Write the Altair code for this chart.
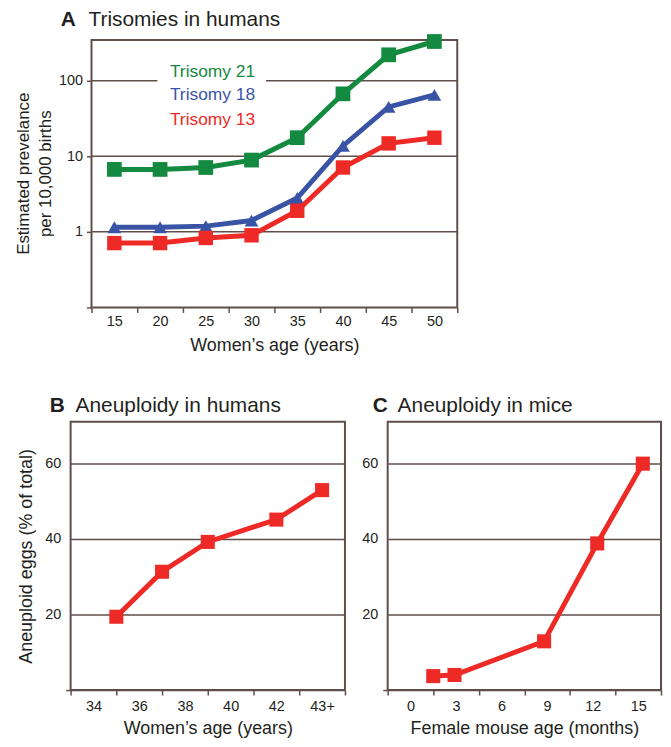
import altair as alt
import pandas as pd

# ---------------- data ----------------
age_a = [15, 20, 25, 30, 35, 40, 45, 50]
trisomy21 = [6.7, 6.7, 7.1, 8.9, 17.6, 67, 220, 330]
trisomy18 = [1.15, 1.15, 1.19, 1.41, 2.8, 13.7, 45, 65]
trisomy13 = [0.71, 0.71, 0.83, 0.9, 1.9, 7.1, 14.8, 17.6]
series_names = ["Trisomy 21", "Trisomy 18", "Trisomy 13"]
grid_a = [1, 10, 100]

age_b = [35, 37, 39, 42, 44]
aneuploid_b = [19.4, 31.3, 39.2, 45.1, 52.9]

age_c = [1.5, 2.9, 8.8, 12.3, 15.3]
aneuploid_c = [3.7, 4.0, 12.9, 38.8, 59.9]

# ---------------- style ----------------
AX = "#604e4b"
TXT = "#231f20"
GREEN = "#138a3f"
BLUE = "#3a54a5"
RED = "#ee2a26"
FONT = "Liberation Sans"
LBL = 14.5
TTL = 18
HEAD = 21
TRANSP = "rgba(0,0,0,0)"


def text_at(txt, x, y, size, weight="normal", angle=0, align="left", baseline="top"):
    d = pd.DataFrame({"t": [txt]})
    return alt.Chart(d).mark_text(
        align=align, baseline=baseline, fontSize=size, fontWeight=weight,
        color=TXT, font=FONT, angle=angle
    ).encode(text="t:N", x=alt.value(x), y=alt.value(y))


def header(letter, text, dx_letter, dx_text, dy):
    return [text_at(letter, dx_letter, dy, HEAD, "bold"), text_at(text, dx_text, dy, HEAD)]


# ---------------- panel A ----------------
# the view starts 21px left of the frame so that it lines up with panel B
A_LEFT = 10.217
xa_scale = alt.Scale(domain=[A_LEFT, 52.5], nice=False, zero=False)
ya_scale = alt.Scale(type="log", domain=[0.1, 345], nice=False)
xa_vals = [12.5 + 2.5 * i for i in range(17)]

XA = alt.X(
    "age:Q", scale=xa_scale,
    axis=alt.Axis(
        values=xa_vals, grid=False, domain=False, labelOverlap=False,
        labelExpr="datum.value % 5 == 0 ? format(datum.value, 'd') : ''",
        tickColor={"condition": {"test": "datum.value % 5 != 0", "value": AX}, "value": TRANSP},
        tickSize=5, labelPadding=2, titlePadding=8.5, titleX=205,
        title="Women\u2019s age (years)",
    ),
)
YA = alt.Y(
    "value:Q", scale=ya_scale,
    axis=alt.Axis(
        values=[0.1, 1, 10, 100], domain=False, grid=False, labelOverlap=False,
        labelExpr="datum.value >= 1 ? format(datum.value, 'd') : ''",
        tickSize=5, labelPadding=4, offset=-21, title=None,
    ),
)

layers_a = []
# gridlines (the one at 100 is interrupted behind the "Trisomy 21" label)
gdf = pd.DataFrame({
    "value": [grid_a[0], grid_a[1], grid_a[2], grid_a[2]],
    "age": [12.5, 12.5, 12.5, 31.6],
    "age2": [52.5, 52.5, 19.7, 52.5],
})
layers_a.append(
    alt.Chart(gdf).mark_rule(color=AX, strokeWidth=1.5).encode(x=XA, x2="age2:Q", y=YA)
)
# frame
fdf = pd.DataFrame({"age": [12.5], "age2": [52.5], "value": [0.1], "value2": [345]})
layers_a.append(
    alt.Chart(fdf).mark_rect(filled=False, stroke=AX, strokeWidth=2)
    .encode(x=XA, x2="age2:Q", y=YA, y2="value2:Q")
)

for vals, color, shape, size in [
    (trisomy18, BLUE, "triangle-up", 190),
    (trisomy13, RED, "square", 210),
    (trisomy21, GREEN, "square", 220),
]:
    d = pd.DataFrame({"age": age_a, "value": vals})
    layers_a.append(alt.Chart(d).mark_line(color=color, strokeWidth=5).encode(x=XA, y=YA))
    layers_a.append(
        alt.Chart(d).mark_point(shape=shape, filled=True, color=color, size=size, opacity=1)
        .encode(x=XA, y=YA)
    )

leg = pd.DataFrame({"label": series_names, "age": [30.4] * 3, "value": [131, 64.5, 30.2]})
layers_a.append(
    alt.Chart(leg).mark_text(align="right", baseline="middle", fontSize=17.5, font=FONT)
    .encode(
        x=XA, y=YA,
        text="label:N",
        color=alt.Color("label:N", scale=alt.Scale(domain=series_names, range=[GREEN, BLUE, RED]), legend=None),
    )
)
layers_a += header("A", "Trisomies in humans", -10, 18, -31.6)
layers_a.append(text_at("Estimated prevelance", -47, 134.5, 17, angle=270, align="center", baseline="middle"))
layers_a.append(text_at("per 10,000 births", -25, 134.5, 17, angle=270, align="center", baseline="middle"))

chart_a = alt.layer(*layers_a).properties(
    width=389, height=269, view=alt.ViewBackground(stroke="transparent")
)

# ---------------- panels B and C ----------------
ybc_scale = alt.Scale(domain=[0, 71], nice=False, zero=True)


def ybc(title):
    return alt.Y(
        "value:Q", scale=ybc_scale,
        axis=alt.Axis(
            values=[0, 20, 40, 60], domain=False, labelOverlap=False,
            labelExpr="datum.value > 0 ? datum.label : ''",
            tickColor={"condition": {"test": "datum.value == 0", "value": AX}, "value": TRANSP},
            tickSize=5, labelPadding=5, titlePadding=9,
            title=title,
        ),
    )


xb_scale = alt.Scale(domain=[33, 45], nice=False, zero=False)
XB = alt.X(
    "age:Q", scale=xb_scale,
    axis=alt.Axis(
        values=list(range(33, 46)), grid=False, domain=False, labelOverlap=False,
        labelExpr="datum.value % 2 == 0 ? (datum.value == 44 ? '43+' : format(datum.value, 'd')) : ''",
        tickColor={"condition": {"test": "datum.value % 2 == 1", "value": AX}, "value": TRANSP},
        tickSize=5, labelPadding=5, titlePadding=6,
        title="Women\u2019s age (years)",
    ),
)
YB = ybc("Aneuploid eggs (% of total)")

db = pd.DataFrame({"age": age_b, "value": aneuploid_b})
spacer = alt.Chart(pd.DataFrame({"t": ["."]})).mark_text(
    align="left", baseline="middle", opacity=0, fontSize=10
).encode(text="t:N", x=alt.value(-62), y=alt.value(135))

chart_b = alt.layer(
    alt.Chart(db).mark_line(color=RED, strokeWidth=5).encode(x=XB, y=YB),
    alt.Chart(db).mark_point(shape="square", filled=True, color=RED, size=200, opacity=1).encode(x=XB, y=YB),
    spacer,
    *header("B", "Aneuploidy in humans", -21, 5, -26.6),
).properties(width=276, height=270)

xc_scale = alt.Scale(domain=[-1.5, 16.5], nice=False, zero=False)
XC = alt.X(
    "age:Q", scale=xc_scale,
    axis=alt.Axis(
        values=[-1.5 + 1.5 * i for i in range(13)], grid=False, domain=False, labelOverlap=False,
        labelExpr="datum.value % 3 == 0 ? format(datum.value, 'd') : ''",
        tickColor={"condition": {"test": "datum.value % 3 != 0", "value": AX}, "value": TRANSP},
        tickSize=5, labelPadding=5, titlePadding=6,
        title="Female mouse age (months)",
    ),
)
YC = ybc("")

dc = pd.DataFrame({"age": age_c, "value": aneuploid_c})
chart_c = alt.layer(
    alt.Chart(dc).mark_line(color=RED, strokeWidth=5).encode(x=XC, y=YC),
    alt.Chart(dc).mark_point(shape="square", filled=True, color=RED, size=200, opacity=1).encode(x=XC, y=YC),
    *header("C", "Aneuploidy in mice", -15, 10, -26.6),
).properties(width=275, height=270)

chart = alt.vconcat(
    chart_a,
    alt.hconcat(chart_b, chart_c, spacing=13),
    spacing=39,
).properties(
    padding={"left": 0, "top": -3, "right": 0, "bottom": 0},
).configure(
    font=FONT, background="white",
).configure_view(
    stroke=AX, strokeWidth=2,
).configure_axis(
    labelFont=FONT, titleFont=FONT,
    labelFontSize=LBL, titleFontSize=TTL,
    labelColor=TXT, titleColor=TXT, titleFontWeight="normal",
    tickColor=AX, tickWidth=1.5,
    gridColor=AX, gridWidth=1.5, gridOpacity=1,
)

chart.save("out.html", embed_options={"renderer": "svg", "actions": False})
